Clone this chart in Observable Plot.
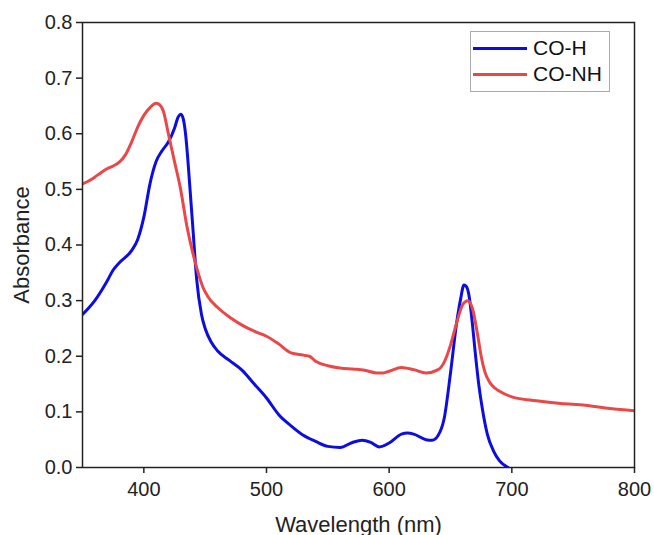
<!DOCTYPE html>
<html>
<head>
<meta charset="utf-8">
<script src="https://cdn.jsdelivr.net/npm/d3@7"></script>
<script src="https://cdn.jsdelivr.net/npm/@observablehq/plot@0.6"></script>
<style>
  html, body { margin: 0; padding: 0; background: #fff; }
  #wrap { position: relative; width: 654px; height: 535px; overflow: hidden; font-family: "Liberation Sans", Arial, sans-serif; }
  #legend { position: absolute; left: 470px; top: 31px; width: 140px; height: 61px; border: 1px solid #aaa; background: #fff; box-sizing: border-box; }
  .item { position: absolute; left: 2px; display: flex; align-items: center; font-size: 21px; color: #111; line-height: 24px; }
  .swatch { width: 54px; height: 0; border-top: 3px solid; margin-right: 6px; }
</style>
</head>
<body>
<div id="wrap"></div>
<script>
const series = ["CO-H", "CO-NH"];
const colors = ["#0d0de2", "#ea4848"];

const wlH = [350,360,370,375,380,390,395,400,405,410,415,420,425,428,430,432,434,436,438,440,443,447,450,455,460,470,480,490,500,510,520,530,540,550,560,570,578,585,592,600,610,615,620,630,635,640,645,650,655,658,661,663,665,668,670,673,676,680,685,690,697];
const absH = [0.275,0.30,0.335,0.355,0.368,0.39,0.41,0.45,0.51,0.55,0.57,0.585,0.61,0.63,0.635,0.628,0.60,0.55,0.49,0.43,0.34,0.275,0.25,0.225,0.21,0.192,0.175,0.15,0.125,0.095,0.075,0.058,0.047,0.038,0.036,0.045,0.049,0.045,0.037,0.044,0.06,0.062,0.06,0.05,0.049,0.058,0.09,0.17,0.26,0.30,0.328,0.325,0.31,0.255,0.21,0.15,0.105,0.06,0.03,0.012,0.0];

const wlNH = [350,355,360,365,370,375,380,385,390,395,400,405,410,413,416,420,425,430,435,440,444,448,452,460,470,480,490,500,510,520,530,535,540,550,560,570,580,590,595,600,610,620,630,640,645,650,655,660,664,668,672,675,678,682,686,690,700,720,740,760,780,800];
const absNH = [0.51,0.515,0.522,0.53,0.537,0.542,0.549,0.562,0.585,0.612,0.633,0.647,0.655,0.652,0.64,0.60,0.55,0.50,0.435,0.385,0.352,0.325,0.308,0.288,0.27,0.256,0.245,0.236,0.222,0.206,0.202,0.200,0.191,0.183,0.179,0.177,0.175,0.170,0.170,0.173,0.180,0.176,0.170,0.176,0.19,0.22,0.26,0.293,0.300,0.285,0.24,0.2,0.172,0.153,0.143,0.137,0.127,0.12,0.115,0.112,0.106,0.102];

const xTicks = [400, 500, 600, 700, 800];
const yTicks = [0, 0.1, 0.2, 0.3, 0.4, 0.5, 0.6, 0.7, 0.8];

const data = [
  ...wlH.map((w, i) => ({wl: w, a: absH[i], s: series[0]})),
  ...wlNH.map((w, i) => ({wl: w, a: absNH[i], s: series[1]}))
];

const chart = Plot.plot({
  width: 654,
  height: 535,
  marginLeft: 82,
  marginRight: 20,
  marginTop: 22,
  marginBottom: 68,
  style: {fontFamily: "'Liberation Sans', Arial, sans-serif", background: "#fff"},
  x: {domain: [350, 800]},
  y: {domain: [0, 0.8]},
  color: {domain: series, range: colors},
  marks: [
    Plot.line(data, {x: "wl", y: "a", z: "s", stroke: "s", strokeWidth: 3, curve: "monotone-x", clip: true}),
    Plot.frame({stroke: "#222", strokeWidth: 1.5}),
    Plot.axisX({ticks: xTicks, tickSize: 6, tickPadding: 8, fontSize: 20, stroke: "#222", strokeWidth: 1.5, color: "#222", label: "Wavelength (nm)", labelAnchor: "center", labelArrow: "none", labelOffset: 64, tickFormat: d3.format("d")}),
    Plot.axisY({ticks: yTicks, tickSize: 6, tickPadding: 4, fontSize: 20, stroke: "#222", strokeWidth: 1.5, color: "#222", label: "Absorbance", labelAnchor: "center", labelArrow: "none", labelOffset: 69, tickFormat: d3.format(".1f")})
  ]
});

// enlarge axis titles
chart.querySelectorAll("text").forEach(t => {
  const s = t.textContent.trim();
  if (s === "Wavelength (nm)" || s === "Absorbance") {
    t.setAttribute("font-size", 22);
    t.style.fontSize = "22px";
    if (t.parentNode && t.parentNode.tagName === "g") t.parentNode.setAttribute("font-size", 22);
  }
});

const wrap = document.getElementById("wrap");
wrap.appendChild(chart);

const legend = document.createElement("div");
legend.id = "legend";
series.forEach((s, i) => {
  const item = document.createElement("div");
  item.className = "item";
  item.style.top = (i === 0 ? 4 : 30) + "px";
  const sw = document.createElement("span");
  sw.className = "swatch";
  sw.style.borderColor = colors[i];
  const lab = document.createElement("span");
  lab.textContent = s;
  item.appendChild(sw);
  item.appendChild(lab);
  legend.appendChild(item);
});
wrap.appendChild(legend);
</script>
</body>
</html>
